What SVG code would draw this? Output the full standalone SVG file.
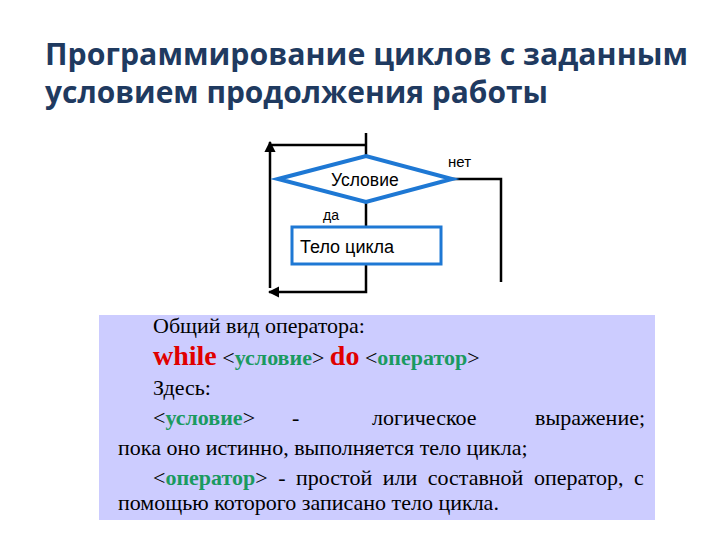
<svg xmlns="http://www.w3.org/2000/svg" width="720" height="540" viewBox="0 0 720 540">
<defs>
<marker id="arr" viewBox="0 0 10 10" refX="9" refY="5" markerWidth="4.5" markerHeight="4.5" orient="auto" markerUnits="strokeWidth">
<path d="M0,0 L10,5 L0,10 z" fill="#000"/>
</marker>
<style>
.title{font-family:"Open Sans","Noto Sans",sans-serif;font-weight:bold;font-size:30px;fill:#1f3a60}
.lbl{font-family:"Liberation Sans",Arial,sans-serif;fill:#000}
.con{stroke:#000;stroke-width:2.5;fill:none}
.body{font-family:"Liberation Serif","Times New Roman",serif;font-size:22px;fill:#000}
.kw{fill:#e00000;font-weight:bold;font-size:28px}
.gr{fill:#1a9a60;font-weight:bold}
.shape{fill:#fff;stroke:#1e78d4}
</style>
</defs>
<rect width="720" height="540" fill="#fff"/>
<g id="title">
<text class="title" x="45" y="65" textLength="643" lengthAdjust="spacingAndGlyphs">Программирование циклов с заданным</text>
<text class="title" x="45" y="103" textLength="503" lengthAdjust="spacingAndGlyphs">условием продолжения работы</text>
</g>
<g id="connectors">
<line class="con" x1="366" y1="133" x2="366" y2="156"/>
<line class="con" x1="270" y1="145" x2="366" y2="145"/>
<line class="con" x1="270" y1="288" x2="270" y2="142" marker-end="url(#arr)"/>
<polyline class="con" points="366,264 366,292 269,292" marker-end="url(#arr)"/>
<line class="con" x1="366" y1="202" x2="366" y2="227"/>
<polyline class="con" points="452,179 501,179 501,282"/>
</g>
<g id="condition">
<polygon class="shape" stroke-width="4" points="278,179 366,156 452,179 366,202"/>
<text class="lbl" x="331" y="186" font-size="17.5">Условие</text>
</g>
<g id="no-label"><text class="lbl" x="448" y="167" font-size="15">нет</text></g>
<g id="yes-label"><text class="lbl" x="323" y="220" font-size="14">да</text></g>
<g id="body">
<rect class="shape" stroke-width="3" x="292" y="227" width="149" height="37"/>
<text class="lbl" x="300" y="253" font-size="18">Тело цикла</text>
</g>
<g id="description">
<rect x="99" y="315" width="556" height="205" fill="#ccccff"/>
<text class="body" x="153" y="333">Общий вид оператора:</text>
<text class="body" x="153" y="365"><tspan class="kw">while</tspan> &lt;<tspan class="gr">условие</tspan>&gt; <tspan class="kw">do</tspan> &lt;<tspan class="gr">оператор</tspan>&gt;</text>
<text class="body" x="153" y="395">Здесь:</text>
<text class="body" y="425"><tspan x="153">&lt;<tspan class="gr">условие</tspan>&gt;</tspan><tspan x="292">-</tspan><tspan x="372">логическое</tspan><tspan x="535">выражение;</tspan></text>
<text class="body" x="118" y="455">пока оно истинно, выполняется тело цикла;</text>
<text class="body" x="153" y="485" word-spacing="5">&lt;<tspan class="gr">оператор</tspan>&gt; - простой или составной оператор, с</text>
<text class="body" x="118" y="510">помощью которого записано тело цикла.</text>
</g>
</svg>
